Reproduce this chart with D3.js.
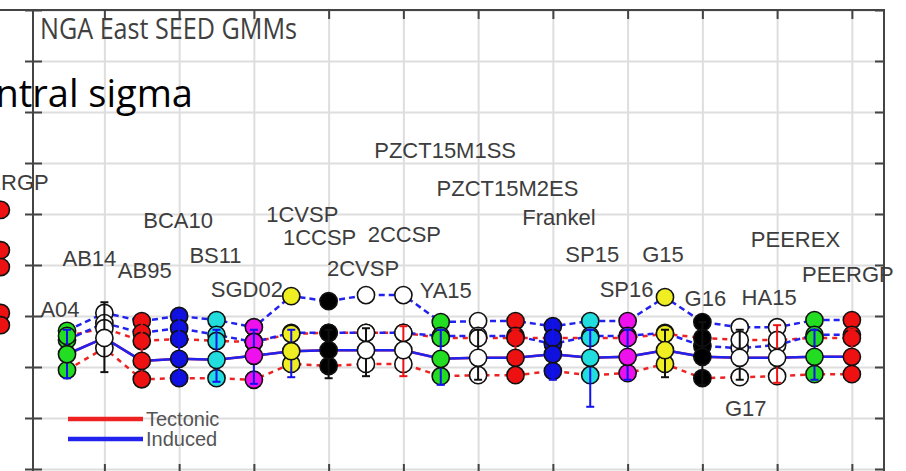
<!DOCTYPE html>
<html><head><meta charset="utf-8">
<script src="https://cdn.jsdelivr.net/npm/d3@7"></script>
<style>html,body{margin:0;padding:0;background:#fff;overflow:hidden}</style>
</head><body>
<svg id="c" width="906" height="471"></svg>
<script>
// ---------- data ----------
const models = ["A04","AB14","AB95","BCA10","BS11","SGD02","1CVSP","1CCSP","2CVSP","2CCSP","YA15","PZCT15M1SS","PZCT15M2ES","Frankel","SP15","SP16","G15","G16","G17","HA15","PEEREX","PEERGP"];
const markerColors = ["#22dd22","#ffffff","#ee1111","#1111dd","#22dddd","#ee11ee","#eeee22","#000000","#ffffff","#ffffff","#22dd22","#ffffff","#ee1111","#1111dd","#22dddd","#ee11ee","#eeee22","#000000","#ffffff","#ffffff","#22dd22","#ee1111"];
// induced branches (blue dashed) and central (blue solid)
const indHigh    = [0.571,0.606,0.590,0.600,0.592,0.578,0.639,0.629,0.641,0.641,0.588,0.590,0.590,0.580,0.590,0.590,0.637,0.588,0.578,0.578,0.592,0.592];
const indMid     = [0.553,0.586,0.567,0.576,0.563,0.549,0.567,0.567,0.567,0.567,0.561,0.561,0.561,0.545,0.561,0.561,0.567,0.541,0.537,0.543,0.563,0.563];
const indCentral = [0.525,0.557,0.512,0.516,0.514,0.522,0.531,0.533,0.533,0.533,0.516,0.518,0.518,0.525,0.518,0.520,0.533,0.520,0.518,0.518,0.520,0.520];
// tectonic branches (red dashed) and central (red solid)
const tecHigh    = [0.561,0.576,0.551,0.555,0.551,0.549,0.565,0.567,0.567,0.567,0.557,0.557,0.557,0.557,0.557,0.557,0.565,0.557,0.553,0.553,0.557,0.557];
const tecCentral = [0.525,0.557,0.512,0.516,0.514,0.522,0.531,0.533,0.533,0.533,0.516,0.518,0.518,0.525,0.518,0.520,0.533,0.520,0.518,0.518,0.520,0.520];
const tecLow     = [0.494,0.537,0.476,0.478,0.478,0.475,0.506,0.502,0.506,0.506,0.482,0.484,0.484,0.492,0.484,0.488,0.506,0.478,0.480,0.482,0.486,0.486];
// error bars
const errLow  = [0.478,0.490,0.476,0.475,0.471,0.467,0.480,0.478,0.482,0.482,0.465,0.475,0.475,0.475,0.422,0.475,0.480,0.465,0.475,0.469,0.475,0.475];
const errHigh = [0.573,0.627,0.590,0.602,0.573,0.573,0.573,0.573,0.576,0.580,0.573,0.573,0.573,0.592,0.573,0.573,0.573,0.588,0.573,0.582,0.573,0.573];
const errColors = ["#1111ee","#111111","#ee1111","#1111ee","#1111ee","#1111ee","#1111ee","#111111","#111111","#ee1111","#1111ee","#111111","#ee1111","#1111ee","#1111ee","#1111ee","#111111","#111111","#111111","#ee1111","#1111ee","#ee1111"];
const yTickValues = [0.3,0.4,0.5,0.6,0.7,0.8,0.9,1.0,1.1,1.2];
const xTickValues = [2,4,6,8,10,12,14,16,18,20,22];
const legendLabels = ["Tectonic","Induced"];
const legendColors = ["#ee2222","#2222ee"];
// neighbouring panel (only its last column is visible)
const leftPanelModel = "PEERGP";
const leftPanelValues = [0.808,0.729,0.696,0.606,0.582];

// ---------- layout (label placement offsets, px) ----------
const labelDx = [-7,-15,3,-1,-1,-7,11,-9,-3,1,5,-33,-8,6,2,-1,-2,3,6,-8,-19,-4];
const labelDy = [-14,-47,-43,-88,-57,-30,-74,-56,-19,-53,-24,-163,-125,-101,-59,-24,-35,-16,89,-22,-73,-38];

const svg = d3.select("#c");
const L = 33, R = 884, T = 10, B = 473;
const x = d3.scaleLinear().domain([0.09, 22.86]).range([L, R]);
const y = d3.scaleLinear().domain([0.3, 1.2]).range([469, 10]);
const xLeft = d3.scaleLinear().domain([0.09, 22.86]).range([L - (R - L), L]);

// grid
const grid = svg.append("g");
grid.append("g").attr("transform",`translate(0,${B})`)
  .call(d3.axisBottom(x).tickValues(xTickValues).tickSize(-(B-T)).tickFormat(""))
  .call(g=>{g.select(".domain").remove();g.selectAll("line").attr("stroke","#dedede").attr("stroke-width",2);});
grid.append("g").attr("transform",`translate(${L},0)`)
  .call(d3.axisLeft(y).tickValues(yTickValues).tickSize(-(R-L)).tickFormat(""))
  .call(g=>{g.select(".domain").remove();g.selectAll("line").attr("stroke","#dedede").attr("stroke-width",2);});

// frame ticks
function styleAxis(g){g.select(".domain").remove();g.selectAll("line").attr("stroke","#444").attr("stroke-width",2);}
svg.append("g").attr("transform",`translate(${L},0)`).call(d3.axisLeft(y).tickValues(yTickValues).tickSize(-9).tickFormat("")).call(styleAxis);
svg.append("g").attr("transform",`translate(${L},0)`).call(d3.axisLeft(y).tickValues(yTickValues).tickSize(8).tickFormat("")).call(styleAxis);
svg.append("g").attr("transform",`translate(${R},0)`).call(d3.axisRight(y).tickValues(yTickValues).tickSize(-9).tickFormat("")).call(styleAxis);
svg.append("g").attr("transform",`translate(0,${T})`).call(d3.axisTop(x).tickValues(xTickValues).tickSize(-9).tickFormat("")).call(styleAxis);
svg.append("g").attr("transform",`translate(0,${B})`).call(d3.axisBottom(x).tickValues(xTickValues).tickSize(-9).tickFormat("")).call(styleAxis);
svg.append("rect").attr("x",L).attr("y",T).attr("width",R-L).attr("height",B-T)
  .attr("fill","none").attr("stroke","#444").attr("stroke-width",2);
svg.append("line").attr("x1",0).attr("x2",L).attr("y1",T).attr("y2",T).attr("stroke","#444").attr("stroke-width",2);

// lines
const line = d3.line().x((d,i)=>x(i+1)).y(d=>y(d));
const series = [
  {v:tecHigh, c:"#ee2222", dash:"5,5"},
  {v:tecLow, c:"#ee2222", dash:"5,5"},
  {v:tecCentral, c:"#ee2222", dash:null},
  {v:indHigh, c:"#2222ee", dash:"6,4"},
  {v:indMid, c:"#2222ee", dash:"6,4"},
  {v:indCentral, c:"#2222ee", dash:null}
];
series.forEach(s=>{
  svg.append("path").attr("d",line(s.v)).attr("fill","none").attr("stroke",s.c)
    .attr("stroke-width",2.5).attr("stroke-dasharray",s.dash);
});

// branch circles (under error bars)
const rad = 8.6;
const branchSets = [indHigh, indMid, tecHigh, tecLow];
branchSets.forEach(arr=>{
  svg.append("g").selectAll("circle").data(arr).join("circle")
    .attr("cx",(d,i)=>x(i+1)).attr("cy",d=>y(d)).attr("r",rad)
    .attr("fill",(d,i)=>markerColors[i]).attr("stroke","#111").attr("stroke-width",1.6);
});

// error bars
const eb = svg.append("g");
models.forEach((m,i)=>{
  const cx = x(i+1);
  eb.append("line").attr("x1",cx).attr("x2",cx).attr("y1",y(errLow[i])).attr("y2",y(errHigh[i]))
    .attr("stroke",errColors[i]).attr("stroke-width",2);
  [errLow[i],errHigh[i]].forEach(v=>{
    eb.append("line").attr("x1",cx-4).attr("x2",cx+4).attr("y1",y(v)).attr("y2",y(v))
      .attr("stroke",errColors[i]).attr("stroke-width",2);
  });
});

// central circles on top
svg.append("g").selectAll("circle").data(indCentral).join("circle")
  .attr("cx",(d,i)=>x(i+1)).attr("cy",d=>y(d)).attr("r",rad)
  .attr("fill",(d,i)=>markerColors[i]).attr("stroke","#111").attr("stroke-width",1.6);

// model labels
svg.append("g").selectAll("text").data(models).join("text")
  .attr("x",(d,i)=>x(i+1)+labelDx[i]).attr("y",(d,i)=>y(indHigh[i])+labelDy[i])
  .attr("text-anchor","middle").attr("font-family","Liberation Sans, Arial, sans-serif")
  .attr("font-size",22).attr("fill","#3d3d3d").text(d=>d);

// neighbouring panel fragment
svg.append("g").selectAll("circle").data(leftPanelValues).join("circle")
  .attr("cx",xLeft(22)).attr("cy",d=>y(d)).attr("r",rad)
  .attr("fill","#ee1111").attr("stroke","#111").attr("stroke-width",1.6);
svg.append("text").attr("x",xLeft(22)+2).attr("y",y(leftPanelValues[0])-20)
  .attr("text-anchor","middle").attr("font-family","Liberation Sans, Arial, sans-serif")
  .attr("font-size",22).attr("fill","#3d3d3d").text(leftPanelModel);

// legend
legendLabels.forEach((t,k)=>{
  const ly = 419 + k*20;
  svg.append("line").attr("x1",68).attr("x2",143).attr("y1",ly).attr("y2",ly)
    .attr("stroke",legendColors[k]).attr("stroke-width",4.5);
  svg.append("text").attr("x",146).attr("y",ly+7).attr("font-family","Liberation Sans, Arial, sans-serif")
    .attr("font-size",20).attr("fill","#555").text(t);
});

// slide overlay texts
svg.append("text").attr("x",40).attr("y",39).attr("font-family","Open Sans, sans-serif")
  .attr("font-size",30).attr("fill","#404040").attr("textLength",257).attr("lengthAdjust","spacingAndGlyphs")
  .text("NGA East SEED GMMs");
svg.append("text").attr("x",193).attr("y",107).attr("text-anchor","end").attr("font-family","Open Sans, sans-serif")
  .attr("font-size",38).attr("fill","#000").text("Central sigma");
</script>
</body></html>
